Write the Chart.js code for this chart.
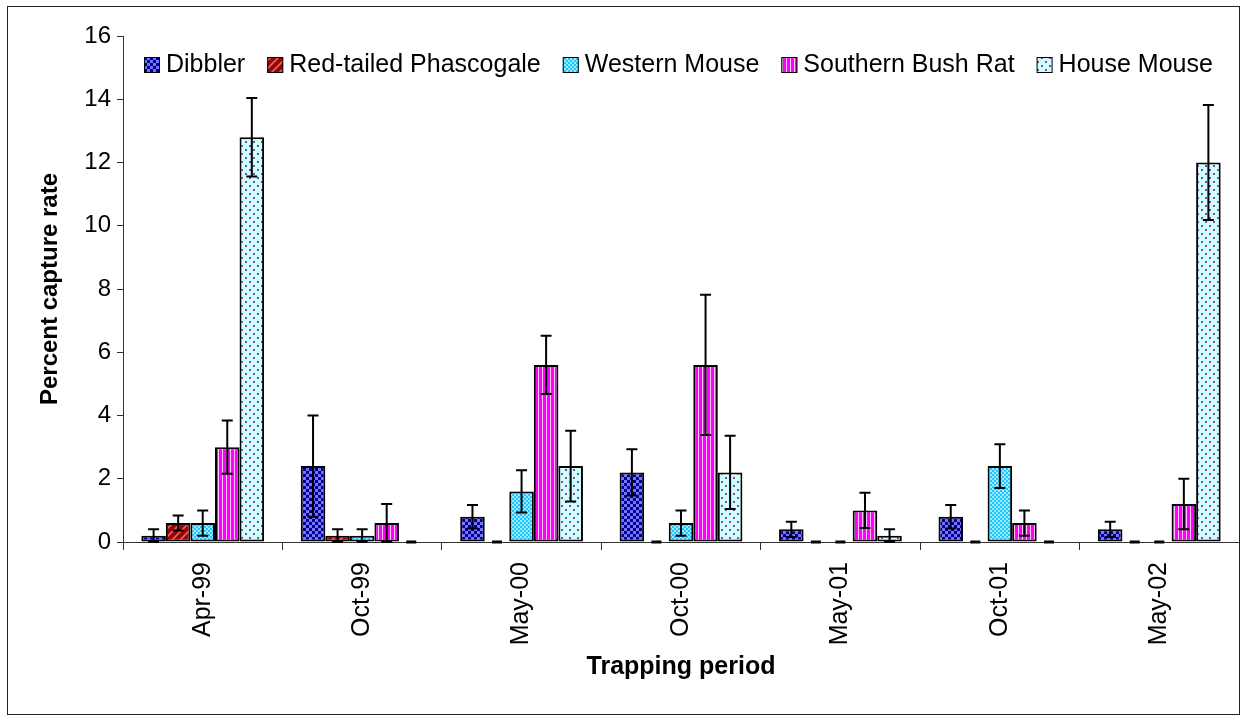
<!DOCTYPE html>
<html>
<head>
<meta charset="utf-8">
<title>Percent capture rate by trapping period</title>
<script src="https://cdn.jsdelivr.net/npm/chart.js@4.4.1/dist/chart.umd.min.js"></script>
<style>
    html, body { margin: 0; padding: 0; background: #fff; }
    #chart { display: block; }
</style>
</head>
<body>
<canvas id="chart" width="1247" height="722"></canvas>
<script>
    // Trapping periods and capture rates (mean and error) for each species
    const periods = ['Apr-99', 'Oct-99', 'May-00', 'Oct-00', 'May-01', 'Oct-01', 'May-02'];
    const species = ['Dibbler', 'Red-tailed Phascogale', 'Western Mouse', 'Southern Bush Rat', 'House Mouse'];

    const dibbler = [0.2, 2.4, 0.8, 2.2, 0.4, 0.8, 0.4];
    const dibblerErr = [0.2, 1.6, 0.37, 0.73, 0.24, 0.37, 0.24];
    const phascogale = [0.6, 0.2, 0, 0, 0, 0, 0];
    const phascogaleErr = [0.24, 0.2, 0, 0, 0, 0, 0];
    const westernMouse = [0.6, 0.2, 1.6, 0.6, 0, 2.4, 0];
    const westernMouseErr = [0.4, 0.2, 0.67, 0.4, 0, 0.69, 0];
    const bushRat = [3.0, 0.6, 5.6, 5.6, 1.0, 0.6, 1.2];
    const bushRatErr = [0.84, 0.6, 0.92, 2.22, 0.56, 0.4, 0.8];
    const houseMouse = [12.8, 0, 2.4, 2.2, 0.2, 0, 12.0];
    const houseMouseErr = [1.24, 0, 1.12, 1.16, 0.2, 0, 1.82];

    const yTicks = [0, 2, 4, 6, 8, 10, 12, 14, 16];

    const FONT = '"Liberation Sans", Arial, sans-serif';

    // Small tiled fills for the bars
    function makePattern(size, paint) {
        const c = document.createElement('canvas');
        c.width = size; c.height = size;
        const g = c.getContext('2d');
        paint(g, size);
        return document.getElementById('chart').getContext('2d').createPattern(c, 'repeat');
    }

    const checkerFill = makePattern(6, (g, s) => {
        g.fillStyle = '#00008a'; g.fillRect(0, 0, s, s);
        g.fillStyle = '#7474ff';
        g.fillRect(0, 0, 3, 3); g.fillRect(3, 3, 3, 3);
    });
    const diagonalFill = makePattern(8, (g, s) => {
        g.fillStyle = '#a00000'; g.fillRect(0, 0, s, s);
        g.strokeStyle = '#d86a6a'; g.lineWidth = 1.6;
        g.beginPath();
        g.moveTo(-2, s + 2); g.lineTo(s + 2, -2);
        g.moveTo(-2, 2); g.lineTo(2, -2);
        g.moveTo(s - 2, s + 2); g.lineTo(s + 2, s - 2);
        g.stroke();
    });
    const lightCheckFill = makePattern(4, (g, s) => {
        g.fillStyle = '#1cc6ff'; g.fillRect(0, 0, s, s);
        g.fillStyle = '#9fe9ff';
        g.fillRect(0, 0, 2, 2); g.fillRect(2, 2, 2, 2);
    });
    const stripeFill = makePattern(4, (g, s) => {
        g.fillStyle = '#ff00ff'; g.fillRect(0, 0, s, s);
        g.fillStyle = '#ffc8ff'; g.fillRect(2, 0, 1, s);
    });
    const dotFill = makePattern(8, (g, s) => {
        g.fillStyle = '#ccffff'; g.fillRect(0, 0, s, s);
        g.fillStyle = '#944494';
        g.fillRect(1, 1, 2, 2); g.fillRect(5, 5, 2, 2);
    });

    const seriesValues = [dibbler, phascogale, westernMouse, bushRat, houseMouse];
    const seriesErrors = [dibblerErr, phascogaleErr, westernMouseErr, bushRatErr, houseMouseErr];
    const seriesFills = [checkerFill, diagonalFill, lightCheckFill, stripeFill, dotFill];

    // Error bars, plus a short dash for zero-rate bars
    const errorBars = {
        id: 'errorBars',
        afterDatasetsDraw(chart) {
            const ctx = chart.ctx;
            const y = chart.scales.y;
            ctx.save();
            ctx.strokeStyle = '#000';
            ctx.lineWidth = 2;
            chart.data.datasets.forEach((ds, di) => {
                const meta = chart.getDatasetMeta(di);
                meta.data.forEach((bar, i) => {
                    const v = ds.data[i];
                    const e = ds.errors[i];
                    if (v === 0) {
                        const y0 = y.getPixelForValue(0);
                        ctx.fillStyle = '#000';
                        ctx.fillRect(bar.x - 5, y0 - 1.5, 10, 3);
                        return;
                    }
                    if (!e) return;
                    const top = y.getPixelForValue(v + e);
                    const bot = y.getPixelForValue(Math.max(v - e, 0));
                    ctx.beginPath();
                    ctx.moveTo(bar.x, top); ctx.lineTo(bar.x, bot);
                    ctx.moveTo(bar.x - 5.5, top); ctx.lineTo(bar.x + 5.5, top);
                    ctx.moveTo(bar.x - 5.5, bot); ctx.lineTo(bar.x + 5.5, bot);
                    ctx.stroke();
                });
            });
            ctx.restore();
        }
    };

    // Legend row across the top of the plot, and the outer frame
    const legendAndFrame = {
        id: 'legendAndFrame',
        afterDraw(chart) {
            const ctx = chart.ctx;
            const area = chart.chartArea;
            ctx.save();
            ctx.font = '25px ' + FONT;
            const box = 16, textGap = 6, itemGap = 22;
            let x = area.left + 21;
            const cy = 65;
            chart.data.datasets.forEach(ds => {
                ctx.fillStyle = ds.backgroundColor;
                ctx.fillRect(x, cy - box / 2, box, box);
                ctx.strokeStyle = '#000';
                ctx.lineWidth = 1;
                ctx.strokeRect(x + 0.5, cy - box / 2 + 0.5, box - 1, box - 1);
                ctx.fillStyle = '#000';
                ctx.textBaseline = 'middle';
                ctx.textAlign = 'left';
                ctx.fillText(ds.label, x + box + textGap, cy);
                x += box + textGap + ctx.measureText(ds.label).width + itemGap;
            });
            ctx.strokeStyle = '#222';
            ctx.lineWidth = 1;
            ctx.strokeRect(7.5, 6.5, chart.width - 15, chart.height - 14);
            ctx.restore();
        }
    };

    Chart.defaults.color = '#000';
    Chart.defaults.font.family = FONT;

    new Chart(document.getElementById('chart'), {
        type: 'bar',
        data: {
            labels: periods,
            datasets: species.map((name, k) => ({
                label: name,
                data: seriesValues[k],
                errors: seriesErrors[k],
                backgroundColor: seriesFills[k],
                borderColor: '#000',
                borderWidth: 2,
                borderSkipped: false,
                categoryPercentage: 0.77,
                barPercentage: 1.0
            }))
        },
        options: {
            responsive: false,
            animation: false,
            layout: { padding: { left: 8, top: 36, right: 8, bottom: 8 } },
            plugins: {
                legend: { display: false },
                tooltip: { enabled: false }
            },
            scales: {
                x: {
                    grid: { drawOnChartArea: false, drawTicks: true, tickLength: 8, color: '#333', offset: true },
                    border: { color: '#333', width: 1 },
                    ticks: {
                        font: { size: 25 },
                        minRotation: 90,
                        maxRotation: 90,
                        autoSkip: false,
                        padding: 12
                    },
                    title: {
                        display: true,
                        text: 'Trapping period',
                        font: { size: 25, weight: 'bold' },
                        padding: { top: 4, bottom: 32 }
                    },
                    afterFit(s) {
                        s.height = 172;
                        s.paddingLeft = 0;
                        s.paddingRight = 0;
                    }
                },
                y: {
                    min: 0,
                    max: 16,
                    grid: { drawOnChartArea: false, drawTicks: true, tickLength: 6, color: '#333' },
                    border: { color: '#333', width: 1 },
                    afterBuildTicks(s) {
                        s.ticks = yTicks.map(v => ({ value: v }));
                    },
                    ticks: {
                        font: { size: 24 },
                        padding: 6
                    },
                    title: {
                        display: true,
                        text: 'Percent capture rate',
                        font: { size: 24, weight: 'bold' },
                        padding: { top: 28, bottom: 0 }
                    },
                    afterFit(s) {
                        s.width = 115;
                    }
                }
            }
        },
        plugins: [errorBars, legendAndFrame]
    });
</script>
</body>
</html>
